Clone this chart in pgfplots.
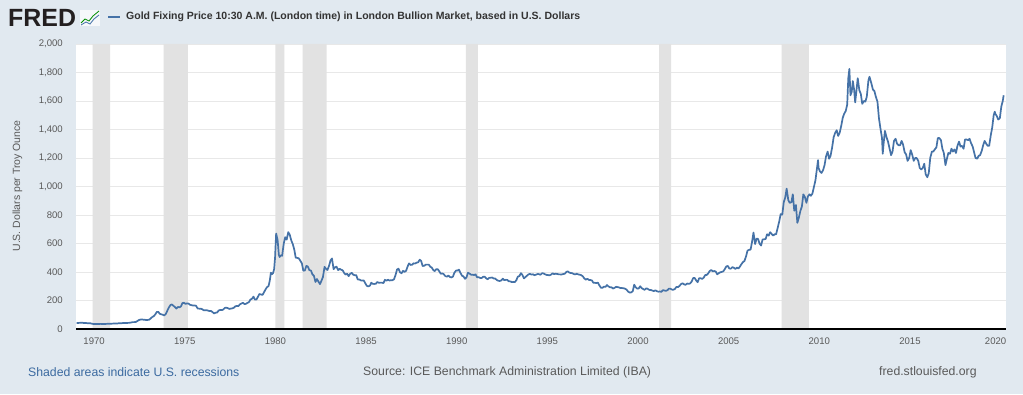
\documentclass[border=0pt]{standalone}
\usepackage{pgfplots}
\pgfplotsset{compat=1.18}
\usepackage{fontspec}
\setmainfont{Liberation Sans}
\definecolor{bgc}{RGB}{225,233,240}
\definecolor{fredblue}{RGB}{69,114,167}
\definecolor{recgray}{RGB}{226,226,226}
\definecolor{gridc}{RGB}{232,232,232}
\definecolor{tickc}{RGB}{89,89,89}
\definecolor{titlec}{RGB}{51,51,51}
\definecolor{linkblue}{RGB}{59,106,160}
\begin{document}
\begin{tikzpicture}[x=1bp,y=1bp]
\path[use as bounding box, fill=bgc] (0,0) rectangle (1023,394);
\begin{axis}[
  at={(76bp,65bp)}, anchor=south west,
  width=930bp, height=285bp, scale only axis,
  xmin=1969.0, xmax=2020.3, ymin=0, ymax=2000,
  axis background/.style={fill=white},
  axis line style={draw=none},
  clip mode=individual,
  ytick={0,200,...,2000},
  xtick={1970,1975,1980,1985,1990,1995,2000,2005,2010,2015,2020},
  xticklabels={1970,1975,1980,1985,1990,1995,2000,2005,2010,2015,2020\hspace*{10bp}},
  ymajorgrids, major grid style={draw=gridc, line width=0.9bp},
  major tick length=0pt,
  tick label style={font=\fontsize{9.6}{11}\selectfont, text=tickc},
  yticklabel style={anchor=east, inner sep=0pt, xshift=-13bp},
  xticklabel style={anchor=north, inner sep=0pt, yshift=-8.5bp},
  /pgf/number format/1000 sep={,},
  /pgf/number format/assume math mode=true,
]
% recessions
\addplot[fill=recgray, draw=none, forget plot] coordinates {(1969.92,0) (1969.92,2000) (1970.88,2000) (1970.88,0)} \closedcycle;
\addplot[fill=recgray, draw=none, forget plot] coordinates {(1973.83,0) (1973.83,2000) (1975.17,2000) (1975.17,0)} \closedcycle;
\addplot[fill=recgray, draw=none, forget plot] coordinates {(1980.00,0) (1980.00,2000) (1980.50,2000) (1980.50,0)} \closedcycle;
\addplot[fill=recgray, draw=none, forget plot] coordinates {(1981.50,0) (1981.50,2000) (1982.83,2000) (1982.83,0)} \closedcycle;
\addplot[fill=recgray, draw=none, forget plot] coordinates {(1990.50,0) (1990.50,2000) (1991.17,2000) (1991.17,0)} \closedcycle;
\addplot[fill=recgray, draw=none, forget plot] coordinates {(2001.17,0) (2001.17,2000) (2001.83,2000) (2001.83,0)} \closedcycle;
\addplot[fill=recgray, draw=none, forget plot] coordinates {(2007.92,0) (2007.92,2000) (2009.42,2000) (2009.42,0)} \closedcycle;
% gold price
\addplot[fredblue, line width=1.7bp, line join=round] coordinates {
(1969.04,42.3)(1969.12,42.6)(1969.21,43.2)(1969.29,43.3)(1969.37,43.5)(1969.46,41.3)(1969.54,42.0)(1969.62,41.0)(1969.71,40.9)(1969.79,40.4)(1969.87,37.4)(1969.96,35.2)
(1970.04,34.9)(1970.12,35.0)(1970.21,35.1)(1970.29,35.6)(1970.37,35.9)(1970.46,35.4)(1970.54,35.3)(1970.62,35.4)(1970.71,36.2)(1970.79,37.5)(1970.87,37.4)(1970.96,37.4)
(1971.04,37.9)(1971.12,38.7)(1971.21,38.9)(1971.29,39.0)(1971.37,40.5)(1971.46,40.1)(1971.54,41.0)(1971.62,42.7)(1971.71,42.0)(1971.79,42.5)(1971.87,42.9)(1971.96,43.5)
(1972.04,45.7)(1972.12,48.3)(1972.21,48.3)(1972.29,49.0)(1972.37,54.6)(1972.46,62.1)(1972.54,65.7)(1972.62,67.0)(1972.71,65.5)(1972.79,64.9)(1972.87,62.9)(1972.96,63.9)
(1973.04,65.1)(1973.12,74.2)(1973.21,84.4)(1973.29,90.5)(1973.37,102.0)(1973.46,120.1)(1973.54,120.2)(1973.62,106.8)(1973.71,103.0)(1973.79,100.1)(1973.87,94.8)(1973.96,106.7)
(1974.04,129.2)(1974.12,150.2)(1974.21,168.4)(1974.29,172.2)(1974.37,163.3)(1974.46,154.1)(1974.54,143.0)(1974.62,154.6)(1974.71,151.8)(1974.79,158.8)(1974.87,181.7)(1974.96,183.9)
(1975.04,176.3)(1975.12,179.6)(1975.21,178.2)(1975.29,169.9)(1975.37,167.4)(1975.46,164.3)(1975.54,165.2)(1975.62,163.1)(1975.71,144.0)(1975.79,142.8)(1975.87,142.8)(1975.96,139.3)
(1976.04,131.6)(1976.12,131.2)(1976.21,132.7)(1976.29,128.4)(1976.37,125.9)(1976.46,125.7)(1976.54,117.7)(1976.62,109.2)(1976.71,114.6)(1976.79,116.4)(1976.87,129.9)(1976.96,133.7)
(1977.04,132.3)(1977.12,136.4)(1977.21,148.3)(1977.29,149.3)(1977.37,146.6)(1977.46,140.8)(1977.54,143.4)(1977.62,144.8)(1977.71,149.3)(1977.79,159.1)(1977.87,162.0)(1977.96,160.5)
(1978.04,173.1)(1978.12,178.2)(1978.21,183.7)(1978.29,175.3)(1978.37,176.3)(1978.46,183.6)(1978.54,188.8)(1978.62,206.1)(1978.71,212.6)(1978.79,227.3)(1978.87,206.2)(1978.96,207.8)
(1979.04,227.3)(1979.12,245.7)(1979.21,242.1)(1979.29,239.2)(1979.37,257.6)(1979.46,279.1)(1979.54,294.4)(1979.62,300.8)(1979.69,340)(1979.75,395)(1979.81,385)(1979.87,392.5)(1979.93,420)(1979.98,500)
(1980.04,670)(1980.12,625)(1980.19,520)(1980.23,505)(1980.29,517)(1980.37,513.8)(1980.46,600.7)(1980.54,644.3)(1980.62,627.0)(1980.71,680)(1980.79,661.2)(1980.87,623.5)(1980.96,594.9)
(1981.04,557.6)(1981.12,500.4)(1981.21,498.7)(1981.29,495.8)(1981.37,479.7)(1981.46,460.8)(1981.54,409.3)(1981.62,410.1)(1981.71,443.2)(1981.79,437.8)(1981.87,413.4)(1981.96,410.1)
(1982.04,384.1)(1982.12,374.2)(1982.21,330.0)(1982.29,350.6)(1982.37,333.1)(1982.46,314.9)(1982.54,339.1)(1982.62,364.2)(1982.71,435.9)(1982.79,422.2)(1982.87,414.1)(1982.96,444.3)
(1983.04,481.1)(1983.12,495.0)(1983.21,419.7)(1983.29,432.8)(1983.37,437.6)(1983.46,413.0)(1983.54,422.8)(1983.62,416.3)(1983.71,411.8)(1983.79,393.7)(1983.87,381.9)(1983.96,388.1)
(1984.04,370.9)(1984.12,386.8)(1984.21,394.2)(1984.29,381.3)(1984.37,377.5)(1984.46,377.7)(1984.54,347.5)(1984.62,348.0)(1984.71,341.1)(1984.79,340.2)(1984.87,341.2)(1984.96,320.2)
(1985.04,303.0)(1985.12,298.8)(1985.21,304.0)(1985.29,324.7)(1985.37,316.6)(1985.46,316.4)(1985.54,317.5)(1985.62,329.9)(1985.71,323.6)(1985.79,325.3)(1985.87,325.3)(1985.96,322.4)
(1986.04,345.4)(1986.12,338.9)(1986.21,345.7)(1986.29,340.4)(1986.37,342.5)(1986.46,342.8)(1986.54,348.7)(1986.62,376.2)(1986.71,417.9)(1986.79,423.3)(1986.87,398.4)(1986.96,391.3)
(1987.04,408.3)(1987.12,401.1)(1987.21,408.9)(1987.29,438.4)(1987.37,460.1)(1987.46,449.8)(1987.54,450.6)(1987.62,460.9)(1987.71,459.9)(1987.79,465.9)(1987.87,467.6)(1987.96,486.3)
(1988.04,477.0)(1988.12,442.1)(1988.21,443.6)(1988.29,451.6)(1988.37,451.6)(1988.46,451.7)(1988.54,437.4)(1988.62,431.9)(1988.71,413.0)(1988.79,406.2)(1988.87,419.7)(1988.96,419.1)
(1989.04,404.3)(1989.12,387.8)(1989.21,390.1)(1989.29,384.2)(1989.37,371.1)(1989.46,367.6)(1989.54,374.9)(1989.62,365.4)(1989.71,361.8)(1989.79,366.9)(1989.87,394.2)(1989.96,409.8)
(1990.04,410.1)(1990.12,416.8)(1990.21,393.1)(1990.29,374.3)(1990.37,369.1)(1990.46,352.3)(1990.54,362.5)(1990.62,394.7)(1990.71,389.1)(1990.79,380.8)(1990.87,381.6)(1990.96,378.3)
(1991.04,383.6)(1991.12,363.8)(1991.21,363.3)(1991.29,358.4)(1991.37,356.8)(1991.46,366.7)(1991.54,367.7)(1991.62,356.4)(1991.71,348.7)(1991.79,358.7)(1991.87,359.7)(1991.96,361.1)
(1992.04,354.5)(1992.12,354.0)(1992.21,344.3)(1992.29,338.6)(1992.37,337.2)(1992.46,340.8)(1992.54,353.1)(1992.62,342.8)(1992.71,345.2)(1992.79,344.4)(1992.87,335.0)(1992.96,334.2)
(1993.04,329.0)(1993.12,329.3)(1993.21,330.1)(1993.29,342.2)(1993.37,367.2)(1993.46,371.9)(1993.54,392.0)(1993.62,379.8)(1993.71,355.3)(1993.79,364.2)(1993.87,373.6)(1993.96,383.3)
(1994.04,387.0)(1994.12,382.0)(1994.21,383.9)(1994.29,377.3)(1994.37,381.4)(1994.46,385.6)(1994.54,385.1)(1994.62,380.4)(1994.71,391.6)(1994.79,389.8)(1994.87,384.4)(1994.96,379.3)
(1995.04,378.6)(1995.12,376.5)(1995.21,382.1)(1995.29,391.0)(1995.37,385.2)(1995.46,387.6)(1995.54,386.2)(1995.62,383.7)(1995.71,383.1)(1995.79,383.1)(1995.87,385.5)(1995.96,387.4)
(1996.04,399.5)(1996.12,404.8)(1996.21,396.2)(1996.29,392.8)(1996.37,391.9)(1996.46,385.3)(1996.54,383.5)(1996.62,387.5)(1996.71,383.1)(1996.79,381.1)(1996.87,377.9)(1996.96,369.0)
(1997.04,354.6)(1997.12,346.6)(1997.21,352.3)(1997.29,344.5)(1997.37,343.8)(1997.46,340.8)(1997.54,324.1)(1997.62,324.0)(1997.71,322.8)(1997.79,324.9)(1997.87,306.0)(1997.96,288.7)
(1998.04,289.1)(1998.12,297.5)(1998.21,295.9)(1998.29,308.4)(1998.37,299.1)(1998.46,292.3)(1998.54,292.9)(1998.62,284.1)(1998.71,289.0)(1998.79,296.0)(1998.87,294.1)(1998.96,291.6)
(1999.04,287.1)(1999.12,287.3)(1999.21,285.9)(1999.29,282.6)(1999.37,276.4)(1999.46,261.3)(1999.54,256.1)(1999.62,256.7)(1999.71,264.7)(1999.79,310.7)(1999.87,293.2)(1999.96,283.1)
(2000.04,284.6)(2000.12,300.0)(2000.21,286.4)(2000.29,280.0)(2000.37,275.1)(2000.46,285.7)(2000.54,281.6)(2000.62,274.5)(2000.71,273.7)(2000.79,270.0)(2000.87,266.0)(2000.96,271.5)
(2001.04,265.5)(2001.12,261.9)(2001.21,263.0)(2001.29,260.5)(2001.37,272.4)(2001.46,270.2)(2001.54,267.5)(2001.62,272.4)(2001.71,283.4)(2001.79,283.1)(2001.87,276.2)(2001.96,275.9)
(2002.04,281.7)(2002.12,295.5)(2002.21,294.0)(2002.29,302.7)(2002.37,314.5)(2002.46,321.2)(2002.54,313.3)(2002.62,310.3)(2002.71,319.2)(2002.79,316.6)(2002.87,319.2)(2002.96,332.6)
(2003.04,356.9)(2003.12,359.0)(2003.21,340.6)(2003.29,328.2)(2003.37,355.7)(2003.46,356.4)(2003.54,351.0)(2003.62,359.8)(2003.71,378.9)(2003.79,378.9)(2003.87,389.9)(2003.96,407.6)
(2004.04,414.0)(2004.12,405.3)(2004.21,406.7)(2004.29,403.0)(2004.37,383.8)(2004.46,392.4)(2004.54,398.1)(2004.62,400.5)(2004.71,405.3)(2004.79,420.5)(2004.87,439.4)(2004.96,442.1)
(2005.04,424.0)(2005.12,423.4)(2005.21,434.2)(2005.29,429.2)(2005.37,421.9)(2005.46,430.7)(2005.54,424.5)(2005.62,437.9)(2005.71,456.0)(2005.79,469.9)(2005.87,476.7)(2005.96,509.8)
(2006.04,549.9)(2006.12,555.0)(2006.21,557.1)(2006.29,610.6)(2006.37,676.5)(2006.46,596.2)(2006.54,633.7)(2006.62,632.6)(2006.71,598.2)(2006.79,585.8)(2006.87,627.8)(2006.96,629.8)
(2007.04,631.2)(2007.12,664.8)(2007.21,655.5)(2007.29,679.4)(2007.37,667.3)(2007.46,655.7)(2007.54,665.3)(2007.62,665.4)(2007.71,712.7)(2007.79,754.6)(2007.87,806.3)(2007.96,803.2)
(2008.04,890)(2008.12,922)(2008.20,985)(2008.29,905)(2008.37,885)(2008.46,890)(2008.54,945)(2008.62,830)(2008.71,870)(2008.79,745)(2008.87,780)(2008.96,830)
(2009.04,860)(2009.12,945)(2009.21,925)(2009.29,885)(2009.37,930)(2009.46,945)(2009.54,935)(2009.62,950)(2009.71,1000)(2009.79,1045)(2009.87,1125)(2009.93,1185)(2009.96,1130)
(2010.04,1105)(2010.12,1095)(2010.21,1115)(2010.29,1150)(2010.37,1210)(2010.46,1245)(2010.54,1195)(2010.62,1215)(2010.71,1275)(2010.79,1345)(2010.87,1375)(2010.96,1395)
(2011.04,1355)(2011.12,1375)(2011.21,1425)(2011.29,1480)(2011.37,1510)(2011.46,1530)(2011.54,1575)(2011.60,1760)(2011.66,1825)(2011.72,1640)(2011.79,1665)(2011.85,1740)(2011.92,1680)(2011.98,1590)
(2012.04,1660)(2012.12,1760)(2012.21,1675)(2012.29,1650)(2012.37,1580)(2012.46,1600)(2012.54,1595)(2012.62,1630)(2012.71,1745)(2012.77,1770)(2012.87,1725)(2012.96,1680)
(2013.04,1670)(2013.12,1630)(2013.21,1595)(2013.29,1480)(2013.37,1410)(2013.46,1340)(2013.50,1230)(2013.54,1290)(2013.62,1390)(2013.71,1345)(2013.79,1315)(2013.87,1270)(2013.96,1220)
(2014.04,1245)(2014.12,1320)(2014.21,1335)(2014.29,1300)(2014.37,1290)(2014.46,1290)(2014.54,1320)(2014.62,1295)(2014.71,1240)(2014.79,1225)(2014.87,1180)(2014.96,1200)
(2015.04,1255)(2015.12,1225)(2015.21,1180)(2015.29,1200)(2015.37,1200)(2015.46,1180)(2015.54,1130)(2015.62,1120)(2015.71,1130)(2015.79,1160)(2015.87,1085)(2015.96,1065)
(2016.04,1095)(2016.12,1200)(2016.21,1245)(2016.29,1245)(2016.37,1260)(2016.46,1275)(2016.54,1340)(2016.62,1340)(2016.71,1325)(2016.79,1265)(2016.87,1235)(2016.96,1150)
(2017.04,1195)(2017.12,1235)(2017.21,1230)(2017.29,1265)(2017.37,1245)(2017.46,1260)(2017.54,1235)(2017.62,1285)(2017.71,1315)(2017.79,1280)(2017.87,1285)(2017.96,1265)
(2018.04,1330)(2018.12,1330)(2018.21,1325)(2018.29,1335)(2018.37,1305)(2018.46,1280)(2018.54,1240)(2018.62,1200)(2018.71,1195)(2018.79,1215)(2018.87,1220)(2018.96,1250)
(2019.04,1290)(2019.12,1320)(2019.21,1300)(2019.29,1285)(2019.37,1285)(2019.46,1360)(2019.54,1415)(2019.62,1500)(2019.68,1525)(2019.71,1510)(2019.79,1495)(2019.87,1470)(2019.96,1480)
(2020.04,1560)(2020.12,1600)(2020.17,1640)
};
\draw[black, line width=1.6bp] (rel axis cs:0,0) -- (rel axis cs:1,0);
\end{axis}
% header
\node[anchor=west, inner sep=0pt, text={rgb,255:red,35;green,31;blue,32}] at (8,376.5) {\fontsize{25}{25}\selectfont\bfseries FRED};
\fill[white!70!bgc] (80,368) rectangle (100,384);
\draw[green!55!black, line width=0.8bp] (81,371) -- (85,375) -- (89,373) -- (93,378) -- (99,383);
\draw[fredblue, line width=0.8bp] (81,369) -- (86,372) -- (90,370) -- (94,375) -- (99,379);
\draw[fredblue, line width=1.5bp] (108,377) -- (120,377);
\node[anchor=west, inner sep=0pt, text=titlec] at (126,377) {\resizebox{454bp}{!}{\fontsize{10.5}{12}\selectfont\bfseries Gold Fixing Price 10:30 A.M. (London time) in London Bullion Market, based in U.S. Dollars}};
% y label
\node[rotate=90, inner sep=0pt, text=tickc] at (17.5,208) {\fontsize{10.5}{12}\selectfont U.S. Dollars per Troy Ounce};
% footer
\node[anchor=west, inner sep=0pt, text=linkblue] at (28,22) {\fontsize{12.3}{14}\selectfont Shaded areas indicate U.S. recessions};
\node[anchor=west, inner sep=0pt, text=tickc] at (363,22) {\fontsize{12.3}{14}\selectfont Source: ICE Benchmark Administration Limited (IBA)};
\node[anchor=west, inner sep=0pt, text=tickc] at (879,22) {\fontsize{12.3}{14}\selectfont fred.stlouisfed.org};
\end{tikzpicture}
\end{document}
